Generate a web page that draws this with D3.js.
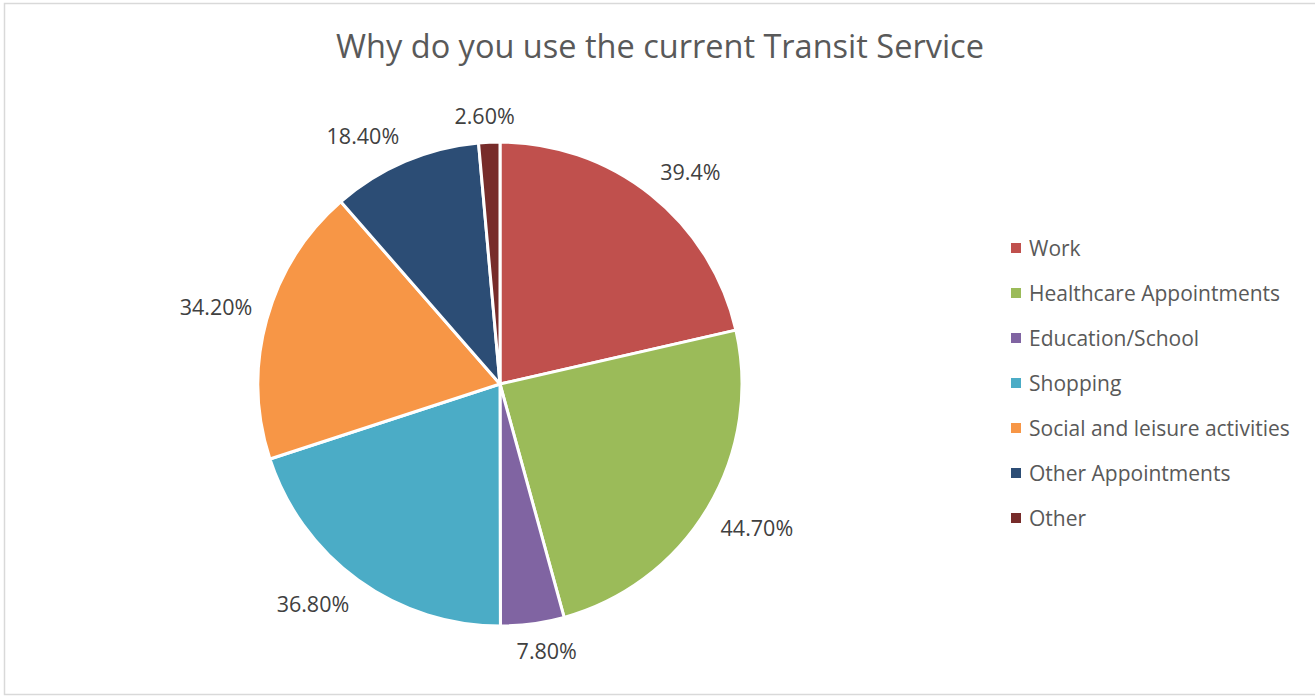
<!DOCTYPE html>
<html>
<head>
<meta charset="utf-8">
<script src="https://cdn.jsdelivr.net/npm/d3@7"></script>
<style>
  html, body { margin: 0; padding: 0; background: #fff; }
  svg { display: block; }
  text { font-family: "Open Sans", "Liberation Sans", sans-serif; }
</style>
</head>
<body>
<svg id="chart" width="1315" height="696"></svg>
<script>
// Survey answers: share of respondents choosing each reason
const categories = ["Work", "Healthcare Appointments", "Education/School", "Shopping",
  "Social and leisure activities", "Other Appointments", "Other"];
const values = [39.4, 44.7, 7.8, 36.8, 34.2, 18.4, 2.6];
const valueLabels = ["39.4%", "44.70%", "7.80%", "36.80%", "34.20%", "18.40%", "2.60%"];
const colors = ["#C0504D", "#9BBB59", "#8064A2", "#4BACC6", "#F79646", "#2C4D75", "#772C2A"];
const title = "Why do you use the current Transit Service";

const svg = d3.select("#chart");
const W = 1315, H = 696;

// chart frame
svg.append("rect")
  .attr("x", 4.5).attr("y", 3.5)
  .attr("width", W).attr("height", 691)
  .attr("fill", "#fff").attr("stroke", "#d9d9d9").attr("stroke-width", 1.5);

svg.append("text")
  .attr("x", 660).attr("y", 58)
  .attr("text-anchor", "middle")
  .attr("font-size", 32.5)
  .attr("fill", "#595959")
  .text(title);

const cx = 500, cy = 384, R = 242;
const g = svg.append("g").attr("transform", `translate(${cx},${cy})`);

const pie = d3.pie().sort(null).value(d => d)(values);
const arc = d3.arc().innerRadius(0).outerRadius(R);
const color = d3.scaleOrdinal().domain(categories).range(colors);

g.selectAll("path.slice")
  .data(pie)
  .join("path")
  .attr("class", "slice")
  .attr("d", arc)
  .attr("fill", (d, i) => color(categories[i]))
  .attr("stroke", "#fff")
  .attr("stroke-width", 3)
  .attr("stroke-linejoin", "round");

// data labels: anchor point just outside the arc, then shift the text box
// away from the pie so its nearest corner sits at that point
const labelSize = 21.5;
const lbl = g.selectAll("text.lbl")
  .data(pie)
  .join("text")
  .attr("class", "lbl")
  .attr("font-size", labelSize)
  .attr("fill", "#404040")
  .attr("text-anchor", "middle")
  .attr("dominant-baseline", "central")
  .text((d, i) => valueLabels[i]);

lbl.each(function (d) {
  const w = this.getComputedTextLength();
  const h = labelSize * 1.1;
  const a = (d.startAngle + d.endAngle) / 2;
  const s = Math.sin(a), c = -Math.cos(a);
  const r = R + 15;
  const dx = Math.sign(s) * (w / 2) * Math.min(1, 3 * Math.abs(s));
  const dy = Math.sign(c) * (h / 2) * Math.min(1, 3 * Math.abs(c));
  d3.select(this).attr("x", s * r + dx).attr("y", c * r + dy);
});

// legend
const legend = svg.append("g").attr("transform", "translate(1011,248)");
const rowStep = 45;
const item = legend.selectAll("g.item")
  .data(categories)
  .join("g")
  .attr("class", "item")
  .attr("transform", (d, i) => `translate(0,${i * rowStep})`);
item.append("rect")
  .attr("x", 0).attr("y", -5)
  .attr("width", 10).attr("height", 10)
  .attr("fill", d => color(d));
item.append("text")
  .attr("x", 18).attr("y", 0)
  .attr("dominant-baseline", "central")
  .attr("font-size", 21)
  .attr("fill", "#595959")
  .text(d => d);
</script>
</body>
</html>
